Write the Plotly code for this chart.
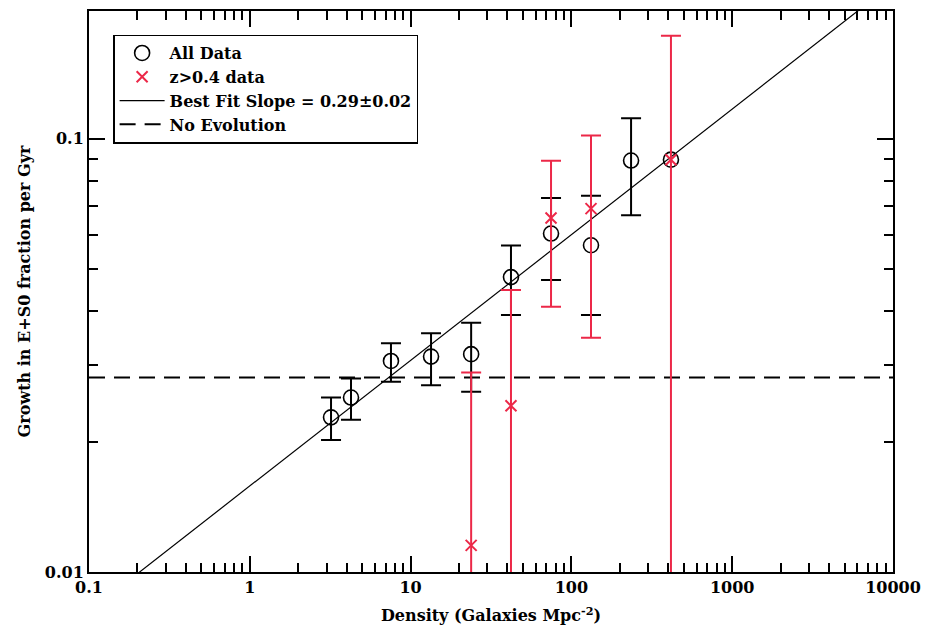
import plotly.graph_objects as go

# ---- data ----
density = [3.2, 4.26, 7.55, 13.4, 23.8, 42.1, 74.7, 132.4, 235.0, 416.0]
growth = [0.02275, 0.02528, 0.0307, 0.03142, 0.03183, 0.04794, 0.06043, 0.05679, 0.0891, 0.0895]
growth_hi = [0.02528, 0.02797, 0.03375, 0.03557, 0.03763, 0.0567, 0.07301, 0.0739, 0.1115, None]
growth_lo = [0.02018, 0.02247, 0.02748, 0.027, 0.02606, 0.0392, 0.04718, 0.0392, 0.0666, None]

hiz_density = [23.8, 42.1, 74.7, 132.4, 416.0]
hiz_growth = [0.01152, 0.02419, 0.06564, 0.069, 0.0895]
hiz_hi = [0.02886, 0.04474, 0.0890, 0.1018, 0.1729]
hiz_lo = [0.003, 0.003, 0.04097, 0.03475, 0.003]

fit_slope = 0.29
fit_norm = 0.0158          # growth at density = 1
no_evolution = 0.0281
x_range = [0.1, 10000]

x_ticks = [0.1, 1, 10, 100, 1000, 10000]
x_ticklabels = ["0.1", "1", "10", "100", "1000", "10000"]
y_ticks = [0.01, 0.1]
y_ticklabels = ["0.01", "0.1"]

RED = "rgb(236,40,72)"
FONT = "DejaVu Serif"

fig = go.Figure()

# best fit line
fig.add_trace(go.Scatter(
    x=x_range, y=[fit_norm * v ** fit_slope for v in x_range],
    mode="lines", line=dict(color="black", width=1.2),
    name="Best Fit Slope = 0.29\u00b10.02", legendrank=3, hoverinfo="skip"))

# no evolution
fig.add_trace(go.Scatter(
    x=x_range, y=[no_evolution, no_evolution],
    mode="lines", line=dict(color="black", width=2, dash="16px,9px"),
    name="No Evolution", legendrank=4, hoverinfo="skip"))

# all data with errors
idx_e = [i for i in range(len(density)) if growth_hi[i] is not None]
idx_n = [i for i in range(len(density)) if growth_hi[i] is None]
fig.add_trace(go.Scatter(
    x=[density[i] for i in idx_e], y=[growth[i] for i in idx_e],
    mode="markers", name="All Data", legendrank=1,
    marker=dict(symbol="circle-open", size=15, color="black", line=dict(width=1.6, color="black")),
    error_y=dict(type="data", symmetric=False,
                 array=[growth_hi[i] - growth[i] for i in idx_e],
                 arrayminus=[growth[i] - growth_lo[i] for i in idx_e],
                 color="black", thickness=2, width=10)))
fig.add_trace(go.Scatter(
    x=[density[i] for i in idx_n], y=[growth[i] for i in idx_n],
    mode="markers", showlegend=False,
    marker=dict(symbol="circle-open", size=15, color="black", line=dict(width=1.6, color="black"))))

# z>0.4 data
fig.add_trace(go.Scatter(
    x=hiz_density, y=hiz_growth, mode="markers", name="z>0.4 data", legendrank=2,
    marker=dict(symbol="x-thin", size=11, color=RED, line=dict(width=2, color=RED)),
    error_y=dict(type="data", symmetric=False,
                 array=[h - g for h, g in zip(hiz_hi, hiz_growth)],
                 arrayminus=[g - l for g, l in zip(hiz_growth, hiz_lo)],
                 color=RED, thickness=2, width=10)))

axis_common = dict(
    type="log", showline=True, linecolor="black", linewidth=2, mirror="allticks",
    ticks="inside", ticklen=16, tickwidth=1.5, tickcolor="black",
    showgrid=False, zeroline=False,
    minor=dict(ticks="inside", ticklen=9, tickwidth=1.5, tickcolor="black", dtick="D1", showgrid=False),
    tickfont=dict(family=FONT, size=16, color="black", weight="bold"),
)

fig.update_layout(
    width=932, height=633,
    margin=dict(l=89, r=39, t=9, b=61),
    paper_bgcolor="white", plot_bgcolor="white",
    font=dict(family=FONT, color="black"),
    showlegend=True,
    legend=dict(x=0.03, y=0.958, xanchor="left", yanchor="top",
                bgcolor="white", bordercolor="black", borderwidth=1.5,
                font=dict(family=FONT, size=16, color="black", weight="bold"),
                itemwidth=45, traceorder="normal"),
    xaxis=dict(axis_common, range=[-1, 4], tickvals=x_ticks, ticktext=x_ticklabels,
               title=dict(text="Density (Galaxies Mpc<sup>-2</sup>)", standoff=14,
                          font=dict(family=FONT, size=16, color="black", weight="bold"))),
    yaxis=dict(axis_common, range=[-2, -0.705], tickvals=y_ticks, ticktext=y_ticklabels,
               title=dict(text="Growth in E+S0 fraction per Gyr", standoff=10,
                          font=dict(family=FONT, size=16, color="black", weight="bold"))),
)

fig.write_html("out.html")
